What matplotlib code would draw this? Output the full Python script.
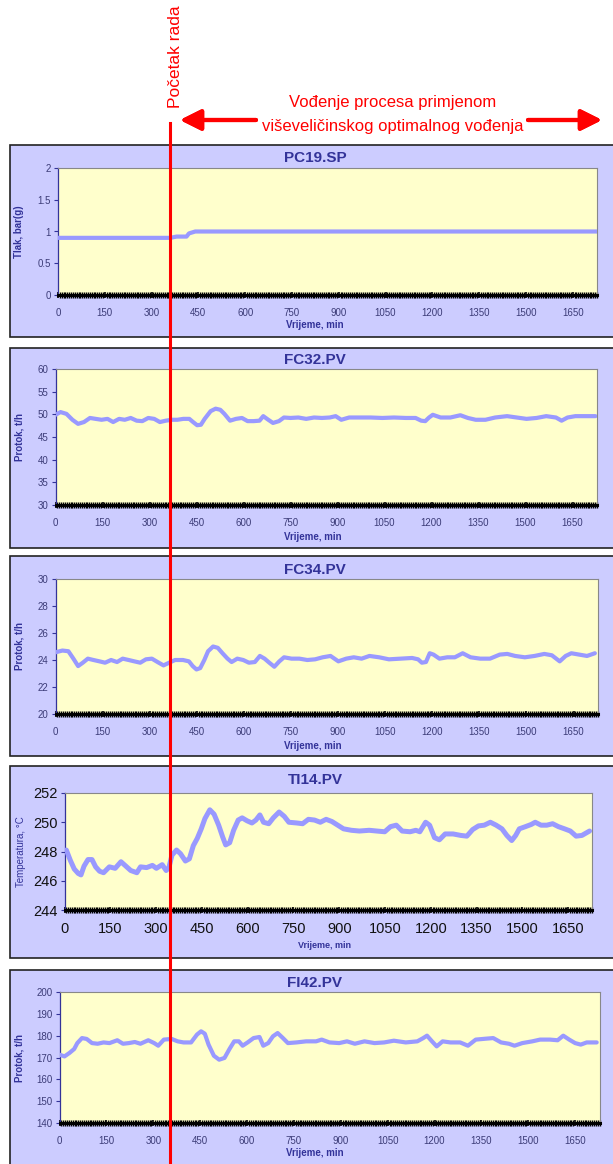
import matplotlib
matplotlib.use('Agg')
import matplotlib.pyplot as plt
from matplotlib.patches import Rectangle
from matplotlib.lines import Line2D
from matplotlib.transforms import blended_transform_factory
from matplotlib.ticker import MultipleLocator, FormatStrFormatter

plt.rcParams['font.family'] = ['Liberation Sans', 'DejaVu Sans']

# ---- data ----
T_MAX = 1728          # minutes shown on the x axis
START_MIN = 360       # "Početak rada"

t_pc19 = [0, 360, 380, 412, 420, 440, 1728]
pc19 = [0.90, 0.90, 0.92, 0.92, 0.97, 1.00, 1.00]

t_fc32 = [0, 16, 35, 54, 72, 91, 110, 128, 147, 166, 184, 203, 221, 240, 259, 277,
          296, 315, 333, 352, 371, 389, 408, 427, 439, 452, 464, 476, 495, 511, 526,
          539, 557, 576, 595, 613, 632, 651, 663, 679, 694, 713, 729, 750, 775, 800,
          825, 850, 875, 894, 912, 937, 968, 1006, 1043, 1080, 1118, 1149, 1167, 1180,
          1192, 1204, 1229, 1260, 1292, 1316, 1341, 1372, 1403, 1441, 1472, 1503,
          1535, 1566, 1597, 1615, 1634, 1659, 1690, 1723]
fc32 = [49.9, 50.5, 50.1, 48.8, 47.9, 48.3, 49.2, 49.0, 48.8, 49.0, 48.3, 49.0, 48.8,
        49.2, 48.6, 48.5, 49.2, 49.0, 48.3, 48.6, 48.8, 48.8, 49.0, 49.0, 48.3, 47.6,
        47.7, 49.0, 50.7, 51.25, 51.0, 50.1, 48.6, 49.0, 49.2, 48.5, 48.5, 48.6, 49.6,
        48.8, 48.1, 48.5, 49.3, 49.2, 49.3, 49.0, 49.3, 49.2, 49.3, 49.6, 48.8, 49.3,
        49.3, 49.3, 49.2, 49.3, 49.2, 49.2, 48.6, 48.5, 49.3, 49.9, 49.3, 49.3, 49.8,
        49.2, 48.8, 48.8, 49.3, 49.6, 49.3, 49.0, 49.2, 49.6, 49.3, 48.6, 49.3, 49.6,
        49.6, 49.6]

t_fc34 = [0, 22, 41, 57, 72, 87, 103, 121, 140, 158, 177, 196, 214, 233, 251, 270,
          288, 307, 325, 344, 362, 381, 406, 425, 437, 449, 461, 474, 486, 502, 517,
          532, 548, 561, 579, 598, 616, 635, 651, 666, 681, 697, 713, 728, 752, 777,
          802, 827, 851, 876, 901, 926, 950, 975, 1000, 1031, 1062, 1099, 1136, 1155,
          1167, 1180, 1192, 1204, 1223, 1248, 1272, 1297, 1322, 1353, 1384, 1415,
          1439, 1464, 1495, 1526, 1557, 1581, 1606, 1625, 1643, 1668, 1693, 1718]
fc34 = [24.57, 24.7, 24.65, 24.1, 23.55, 23.8, 24.1, 24.0, 23.9, 23.8, 24.0, 23.85,
        24.1, 24.0, 23.9, 23.8, 24.05, 24.1, 23.85, 23.6, 23.8, 24.0, 24.0, 23.9,
        23.55, 23.3, 23.4, 24.0, 24.65, 25.0, 24.9, 24.5, 24.1, 23.85, 24.1, 24.0,
        23.8, 23.85, 24.3, 24.1, 23.8, 23.5, 23.9, 24.2, 24.1, 24.1, 24.0, 24.05,
        24.2, 24.3, 23.9, 24.1, 24.2, 24.1, 24.3, 24.2, 24.05, 24.1, 24.15, 24.05,
        23.8, 23.85, 24.5, 24.4, 24.1, 24.2, 24.2, 24.5, 24.2, 24.1, 24.1, 24.4,
        24.45, 24.3, 24.2, 24.3, 24.45, 24.35, 23.9, 24.3, 24.5, 24.4, 24.3, 24.5]

t_ti14 = [6, 19, 32, 45, 54, 64, 77, 90, 102, 115, 128, 147, 166, 185, 201, 217, 237,
          249, 269, 288, 301, 320, 333, 342, 352, 367, 380, 396, 409, 422, 435, 448,
          460, 476, 490, 505, 518, 528, 541, 554, 569, 582, 598, 614, 627, 640, 652,
          669, 684, 703, 720, 735, 761, 780, 799, 819, 838, 857, 876, 895, 914, 940,
          966, 998, 1023, 1049, 1068, 1087, 1106, 1132, 1151, 1164, 1183, 1196, 1212,
          1228, 1247, 1273, 1298, 1318, 1337, 1356, 1375, 1395, 1414, 1433, 1449,
          1465, 1478, 1490, 1510, 1529, 1542, 1561, 1580, 1599, 1618, 1638, 1657,
          1676, 1695, 1720]
ti14 = [248.1, 247.4, 246.8, 246.5, 246.4, 247.0, 247.45, 247.45, 246.95, 246.65,
        246.55, 246.95, 246.85, 247.3, 247.0, 246.7, 246.55, 246.95, 246.9, 247.05,
        246.85, 247.1, 246.7, 246.9, 247.75, 248.1, 247.85, 247.35, 247.5, 248.4,
        248.9, 249.55, 250.25, 250.85, 250.55, 249.8, 249.0, 248.45, 248.6, 249.45,
        250.15, 250.3, 250.1, 249.95, 250.15, 250.5, 250.0, 249.9, 250.3, 250.7,
        250.4, 250.0, 249.95, 249.9, 250.2, 250.15, 250.0, 250.2, 250.05, 249.8,
        249.55, 249.45, 249.4, 249.45, 249.4, 249.35, 249.7, 249.8, 249.4, 249.35,
        249.45, 249.35, 250.0, 249.8, 248.95, 248.8, 249.2, 249.2, 249.1, 249.05,
        249.5, 249.75, 249.8, 250.0, 249.8, 249.55, 249.1, 248.75, 249.1, 249.55,
        249.7, 249.85, 250.0, 249.8, 249.8, 249.9, 249.7, 249.55, 249.4, 249.05,
        249.1, 249.4]

t_fi42 = [0, 16, 32, 47, 57, 72, 87, 104, 122, 141, 160, 185, 203, 222, 241, 259, 284,
          303, 316, 334, 359, 378, 397, 421, 440, 453, 465, 477, 494, 511, 528, 544,
          559, 574, 586, 602, 621, 640, 652, 668, 683, 698, 715, 731, 758, 789, 821,
          839, 864, 895, 920, 945, 976, 1008, 1039, 1070, 1108, 1145, 1164, 1176, 1192,
          1207, 1226, 1251, 1282, 1307, 1332, 1363, 1388, 1413, 1438, 1456, 1481, 1513,
          1538, 1569, 1594, 1612, 1631, 1650, 1668, 1687, 1719]
fi42 = [171.3, 170.5, 172.1, 173.9, 176.6, 178.9, 178.5, 176.6, 176.3, 176.9, 176.6,
        177.9, 176.3, 176.6, 177.1, 176.3, 177.9, 176.6, 175.4, 178.2, 178.5, 177.4,
        176.9, 176.9, 180.5, 182.0, 180.9, 175.9, 170.8, 169.0, 169.8, 173.9, 177.4,
        177.4, 175.4, 176.9, 178.9, 179.4, 175.4, 176.6, 179.7, 181.2, 178.9, 176.6,
        176.9, 177.4, 177.4, 178.2, 176.9, 176.6, 177.4, 176.3, 177.4, 176.6, 176.9,
        177.7, 176.9, 177.4, 178.9, 180.0, 177.4, 175.1, 177.4, 176.9, 176.9, 175.4,
        178.2, 178.6, 178.9, 176.9, 176.3, 175.4, 176.6, 177.4, 178.2, 178.2, 177.9,
        180.0, 178.2, 176.6, 175.9, 176.9, 176.9]

titles = ['PC19.SP', 'FC32.PV', 'FC34.PV', 'TI14.PV', 'FI42.PV']
ylabels = ['Tlak, bar(g)', 'Protok, t/h', 'Protok, t/h', 'Temperatura, °C', 'Protok, t/h']
times = [t_pc19, t_fc32, t_fc34, t_ti14, t_fi42]
series = [pc19, fc32, fc34, ti14, fi42]
ylims = [(0, 2), (30, 60), (20, 30), (244, 252), (140, 200)]
ysteps = [0.5, 5, 2, 2, 10]

# ---- layout in reference pixels ----
W, H = 613, 1164
boxes = [(145, 337), (348, 548), (556, 756), (766, 958), (970, 1172)]
axes_px = [(58, 597, 168, 295), (55.5, 597, 369, 505), (55.5, 598, 579, 714),
           (64.5, 592, 793, 910), (59.5, 599.5, 992, 1123)]
title_y = [158, 360, 570, 780, 983]
xlabel_xy = [(315, 325), (313, 537), (313, 746), (325, 946), (315, 1153)]
ylabel_x = [19.5, 19, 19, 21.5, 19]

PANEL_BG = '#CCCCFF'
PLOT_BG = '#FFFFCC'
LINE_C = '#9999FF'
NAVY = '#333399'
TICK_C = '#3c3c78'


def fx(px):
    return px / W


def fy(py):
    return 1 - py / H


fig = plt.figure(figsize=(W / 100, H / 100), dpi=100)

axes = []
for i in range(5):
    top, bottom = boxes[i]
    fig.add_artist(Rectangle((fx(10), fy(bottom)), fx(625) - fx(10), fy(top) - fy(bottom),
                             transform=fig.transFigure, facecolor=PANEL_BG,
                             edgecolor='#222222', lw=1.2, zorder=-5))
    l, r, t, b = axes_px[i]
    ax = fig.add_axes([fx(l), fy(b), fx(r) - fx(l), fy(t) - fy(b)])
    ax.set_facecolor(PLOT_BG)
    big = (i == 3)
    ax.plot(times[i], series[i], color=LINE_C, lw=3.6 if big else 3.0,
            solid_joinstyle='round', solid_capstyle='round', zorder=3)
    ax.set_xlim(0, T_MAX)
    ax.set_ylim(*ylims[i])
    ax.xaxis.set_major_locator(MultipleLocator(150))
    ax.xaxis.set_minor_locator(MultipleLocator(6))
    ax.yaxis.set_major_locator(MultipleLocator(ysteps[i]))
    ax.yaxis.set_major_formatter(FormatStrFormatter('%g'))
    fs = 10.5 if big else 7
    lc = '#111111' if big else TICK_C
    ax.tick_params(axis='y', labelsize=fs, labelcolor=lc, color=NAVY, length=3,
                   width=0.8, pad=2)
    ax.tick_params(axis='x', which='major', labelsize=fs, labelcolor=lc, color='black',
                   length=5, width=1.2, direction='inout', pad=6 if big else 7)
    ax.tick_params(axis='x', which='minor', color='black', length=5, width=1.0,
                   direction='inout')
    for s in ('top', 'right'):
        ax.spines[s].set_color('#888888')
        ax.spines[s].set_linewidth(0.8)
    ax.spines['left'].set_color(NAVY)
    ax.spines['left'].set_linewidth(0.9)
    ax.spines['bottom'].set_color('black')
    ax.spines['bottom'].set_linewidth(2.2)

    fig.text(fx(315), fy(title_y[i]), titles[i], ha='center', va='center',
             fontsize=11, fontweight='bold', color=NAVY)
    xx, xy = xlabel_xy[i]
    fig.text(fx(xx), fy(xy), 'Vrijeme, min', ha='center', va='center',
             fontsize=6.5 if big else 7, fontweight='bold', color=NAVY)
    fig.text(fx(ylabel_x[i]), fy((t + b) / 2), ylabels[i], ha='center', va='center',
             rotation=90, fontsize=7, fontweight='normal' if big else 'bold', color=NAVY)
    axes.append(ax)

# red "start of operation" line, positioned by data x on the top panel
trans = blended_transform_factory(axes[0].transData, fig.transFigure)
fig.add_artist(Line2D([START_MIN, START_MIN], [fy(123), 0], transform=trans,
                      color='#FF0000', lw=2.2, zorder=20))

fig.text(fx(176), fy(108), 'Početak rada', rotation=90, ha='center', va='bottom',
         fontsize=12.5, color='#FF0000')
fig.text(fx(393), fy(103), 'Vođenje procesa primjenom', ha='center', va='center',
         fontsize=12, color='#FF0000')
fig.text(fx(393), fy(127), 'viševeličinskog optimalnog vođenja', ha='center',
         va='center', fontsize=12, color='#FF0000')

arrow = dict(arrowstyle='-|>,head_length=0.9,head_width=0.45', color='#FF0000',
             lw=3, shrinkA=0, shrinkB=0, mutation_scale=14)
fig.add_artist(plt.annotate('', xy=(fx(180), fy(120)), xytext=(fx(256), fy(120)),
                            xycoords='figure fraction', textcoords='figure fraction',
                            arrowprops=arrow))
fig.add_artist(plt.annotate('', xy=(fx(602), fy(120)), xytext=(fx(528), fy(120)),
                            xycoords='figure fraction', textcoords='figure fraction',
                            arrowprops=arrow))

fig.savefig('out.png', dpi=100)
